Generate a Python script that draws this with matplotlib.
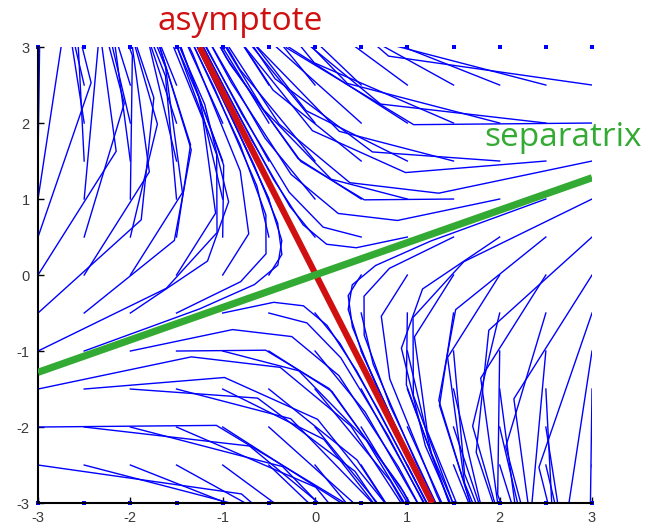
import numpy as np
import matplotlib
matplotlib.use('Agg')
import matplotlib.pyplot as plt

# linear saddle x' = A x (symmetric, eigenvalues +/- sqrt(2))
A = np.array([[-1.0, -1.0],
              [-1.0, 1.0]])

# grid of starting points (spacing 0.5 over the box)
x_starts = [-3.0, -2.5, -2.0, -1.5, -1.0, -0.5, 0.0, 0.5, 1.0, 1.5, 2.0, 2.5, 3.0]
y_starts = [-3.0, -2.5, -2.0, -1.5, -1.0, -0.5, 0.0, 0.5, 1.0, 1.5, 2.0, 2.5, 3.0]

# straight lines
asym_x = [-1.25, 1.27]
asym_y = [3.0, -3.0]
sep_x = [-3.0, 3.0]
sep_y = [-1.28, 1.28]

t_end = 3.0      # length of each trajectory
h_out = 0.5      # solver output interval (coarse -> angular lines)
n_sub = 20       # rk4 substeps per output interval


def rk4_path(p0):
    """integrate x' = A x from p0, keep only the coarse output points"""
    p = np.array(p0, dtype=float)
    pts = [p.copy()]
    h = h_out / n_sub
    for i in range(int(round(t_end / h_out))):
        for j in range(n_sub):
            k1 = A @ p
            k2 = A @ (p + 0.5*h*k1)
            k3 = A @ (p + 0.5*h*k2)
            k4 = A @ (p + h*k3)
            p = p + h/6.0*(k1 + 2*k2 + 2*k3 + k4)
        pts.append(p.copy())
        if abs(p[0]) > 3 or abs(p[1]) > 3:
            break
    return np.array(pts)


fig = plt.figure(figsize=(6.51, 5.29), dpi=100)
ax = fig.add_axes([0.0584, 0.0491, 0.851, 0.862])

for x0 in x_starts:
    for y0 in y_starts:
        tr = rk4_path((x0, y0))
        ax.plot(tr[:, 0], tr[:, 1], color='#0000ff', lw=1.0)
        # trajectories that leave the box at once only show as a dot
        x1, y1 = tr[1]
        if abs(x1) > 3 or abs(y1) > 3:
            if abs(y0) == 3:
                ax.plot([x0], [y0], ls='none', marker='s', ms=2.4,
                        color='#0000ff', mew=0, clip_on=False)

ax.plot(asym_x, asym_y, color='#d01010', lw=4.5, solid_capstyle='butt', zorder=5)
ax.plot(sep_x, sep_y, color='#33aa33', lw=5.2, solid_capstyle='butt', zorder=6)

ax.set_xlim(-3, 3)
ax.set_ylim(-3, 3)
ax.set_xticks([-3, -2, -1, 0, 1, 2, 3])
ax.set_yticks([-3, -2, -1, 0, 1, 2, 3])
ax.set_xticklabels(['-3', '-2', '-1', '0', '1', '2', '3'])
ax.set_yticklabels(['-3', '-2', '-1', '0', '1', '2', '3'])
ax.spines['top'].set_visible(False)
ax.spines['right'].set_visible(False)
ax.spines['left'].set_linewidth(1.5)
ax.spines['bottom'].set_linewidth(1.5)
ax.tick_params(direction='in', length=4, width=1, labelsize=10.5,
               labelcolor='#3a3a3a', pad=6)
for lab in ax.get_xticklabels() + ax.get_yticklabels():
    lab.set_family('Liberation Sans')

fig.text(240/651, 1 - 21/529, 'asymptote', color='#d01010', fontsize=24,
         family='Open Sans', fontweight='medium', ha='center', va='center')
fig.text(563/651, 1 - 137/529, 'separatrix', color='#33aa33', fontsize=24,
         family='Open Sans', fontweight='medium', ha='center', va='center')

fig.savefig('out.png', dpi=100)
